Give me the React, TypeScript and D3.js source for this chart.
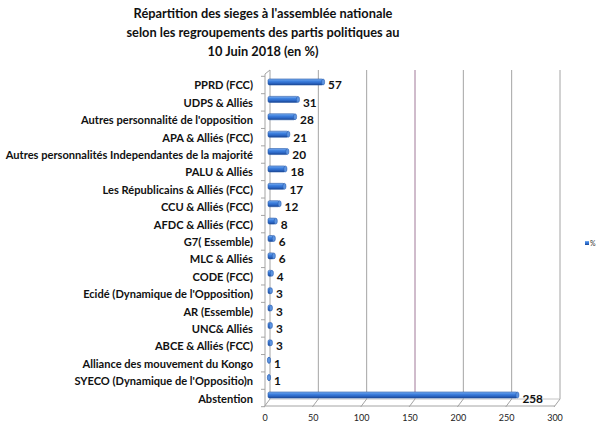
import React from "react";
import * as d3 from "d3";

const title = [
  "Répartition des sieges à l'assemblée nationale",
  "selon les regroupements des partis politiques au",
  "10 Juin 2018 (en %)",
];

const categories = [
  "PPRD (FCC)",
  "UDPS & Alliés",
  "Autres personnalité de l'opposition",
  "APA & Alliés (FCC)",
  "Autres personnalités Independantes de la majorité",
  "PALU & Alliés",
  "Les Républicains & Alliés (FCC)",
  "CCU & Alliés (FCC)",
  "AFDC & Alliés (FCC)",
  "G7( Essemble)",
  "MLC & Alliés",
  "CODE (FCC)",
  "Ecidé (Dynamique de l'Opposition)",
  "AR (Essemble)",
  "UNC& Alliés",
  "ABCE & Alliés (FCC)",
  "Alliance des mouvement du Kongo",
  "SYECO (Dynamique de l'Oppositio)n",
  "Abstention",
];

const values = [57, 31, 28, 21, 20, 18, 17, 12, 8, 6, 6, 4, 3, 3, 3, 3, 1, 1, 258];

const xTicks = [0, 50, 100, 150, 200, 250, 300];
const seriesName = "%";

const FONT = "Lato, 'Open Sans', sans-serif";

export default function App() {
  const W = 600;
  const H = 425;

  const y = d3.scaleBand<string>().domain(categories).range([76.3, 406.7]);
  const xBar = d3.scaleLinear().domain([0, 300]).range([268, 558]);
  const xBack = d3.scaleLinear().domain([0, 300]).range([270, 560]);
  const xFront = d3.scaleLinear().domain([0, 300]).range([265, 555]);

  const wallTop = 70;
  const floorBack = 399;
  const floorFront = 406;

  const boundaries = d3.range(categories.length + 1).map((i) => 76.3 + i * y.step());

  return (
    <div style={{ position: "fixed", left: 0, top: 0, width: W, height: H, background: "#fff" }}>
      <svg width={W} height={H} style={{ display: "block" }}>
        <defs>
          <linearGradient id="barGrad" x1="0" y1="0" x2="0" y2="1">
            <stop offset="0" stopColor="#7fb0f0" />
            <stop offset="0.35" stopColor="#3f82e0" />
            <stop offset="0.7" stopColor="#2b66c4" />
            <stop offset="1" stopColor="#1a4590" />
          </linearGradient>
        </defs>
        <rect width={W} height={H} fill="#fff" />

        {/* title */}
        {title.map((t, i) => (
          <text
            key={i}
            x={263}
            y={18 + i * 19}
            textAnchor="middle"
            fontFamily={FONT}
            fontWeight="bold"
            fontSize={12.8}
            fill="#111"
          >
            {t}
          </text>
        ))}

        {/* back wall gridlines */}
        {xTicks.map((t) => (
          <line
            key={"g" + t}
            x1={xBack(t)}
            x2={xBack(t)}
            y1={wallTop}
            y2={floorBack}
            stroke={t === 150 ? "#a07898" : "#a4a4a4"}
            strokeWidth={1}
          />
        ))}

        {/* left wall */}
        <line x1={265} x2={265} y1={74} y2={floorFront} stroke="#a4a4a4" />
        <line x1={265} x2={270} y1={74} y2={wallTop} stroke="#a4a4a4" />
        {boundaries.map((b, i) => (
          <line key={"lt" + i} x1={261} x2={265} y1={b} y2={b} stroke="#a4a4a4" />
        ))}

        {/* floor */}
        <line x1={xBack(0)} x2={xBack(300)} y1={floorBack} y2={floorBack} stroke="#c4c4c4" />
        <line x1={xFront(0)} x2={xFront(300)} y1={floorFront} y2={floorFront} stroke="#a4a4a4" />
        {xTicks.map((t) => (
          <line
            key={"ft" + t}
            x1={xFront(t) - 1}
            x2={xBack(t)}
            y1={floorFront + 1}
            y2={floorBack}
            stroke="#a4a4a4"
          />
        ))}

        {/* x tick labels */}
        {xTicks.map((t) => (
          <text
            key={"xl" + t}
            x={xFront(t)}
            y={421}
            textAnchor="middle"
            fontFamily={FONT}
            fontSize={9}
            fill="#222"
          >
            {t}
          </text>
        ))}

        {/* category labels */}
        {categories.map((c) => (
          <text
            key={"c" + c}
            x={253}
            y={(y(c) ?? 0) + y.bandwidth() / 2 + 4.5}
            textAnchor="end"
            fontFamily={FONT}
            fontWeight="bold"
            fontSize={11.1}
            fill="#111"
          >
            {c}
          </text>
        ))}

        {/* bars */}
        {categories.map((c, i) => {
          const cy = (y(c) ?? 0) + y.bandwidth() / 2 - 3;
          const x0 = xBar(0);
          const x1 = xBar(values[i]);
          const h = 6;
          return (
            <g key={"b" + c}>
              <rect
                x={x0}
                y={cy - h / 2}
                width={Math.max(x1 - x0, 2)}
                height={h}
                rx={1.5}
                fill="url(#barGrad)"
                stroke="#2557a8"
                strokeWidth={0.6}
              />
              <ellipse cx={x1} cy={cy} rx={1.6} ry={h / 2} fill="#5d94e0" stroke="#2557a8" strokeWidth={0.5} />
            </g>
          );
        })}

        {/* value labels */}
        {categories.map((c, i) => (
          <text
            key={"v" + c}
            x={xBar(values[i]) + 5}
            y={(y(c) ?? 0) + y.bandwidth() / 2 + 4.5}
            fontFamily={FONT}
            fontWeight="bold"
            fontSize={11.8}
            fill="#111"
          >
            {values[i]}
          </text>
        ))}

        {/* legend */}
        <rect x={585} y={241} width={4} height={4} fill="url(#barGrad)" />
        <text x={590} y={246} fontFamily={FONT} fontSize={7} fill="#333">
          {seriesName}
        </text>
      </svg>
    </div>
  );
}
